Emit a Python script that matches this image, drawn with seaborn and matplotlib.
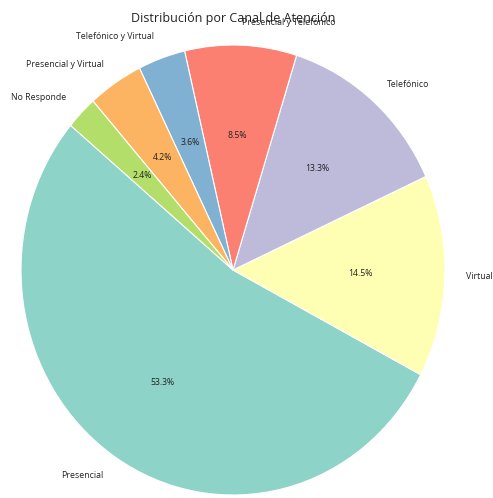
import matplotlib
matplotlib.use('Agg')
import matplotlib.pyplot as plt
import seaborn as sns

# Canales y porcentajes
canales = ['Presencial', 'Virtual', 'Telefónico', 'Presencial y Telefónico',
           'Telefónico y Virtual', 'Presencial y Virtual', 'No Responde']
porcentajes = [53.3, 14.5, 13.3, 8.5, 3.6, 4.2, 2.4]
total = sum(porcentajes)

sns.set_theme(style='white')
plt.rcParams['font.family'] = ['Open Sans', 'DejaVu Sans']

fig = plt.figure(figsize=(4.93, 4.98), dpi=100)
# pie is slightly stretched in the reference, so place axes by hand
ax = fig.add_axes([21 / 493, 3 / 498, 424 / 493, 450 / 498])

colors = sns.color_palette('Set3', len(canales))
wedges, texts, autotexts = ax.pie(
    porcentajes,
    labels=canales,
    colors=colors,
    autopct=lambda p: f'{p * total / 100:.1f}%',
    startangle=140,
    pctdistance=0.6,
    labeldistance=1.1,
    wedgeprops={'edgecolor': 'white', 'linewidth': 0.8},
    textprops={'fontsize': 6.3, 'color': '#222222'},
)
ax.set_aspect('auto')
ax.set_xlim(-1, 1)
ax.set_ylim(-1, 1)
ax.set_title('Distribución por Canal de Atención', fontsize=9,
             y=1.052, pad=0, color='#222222')

fig.savefig('out.png', dpi=100)
plt.close()
